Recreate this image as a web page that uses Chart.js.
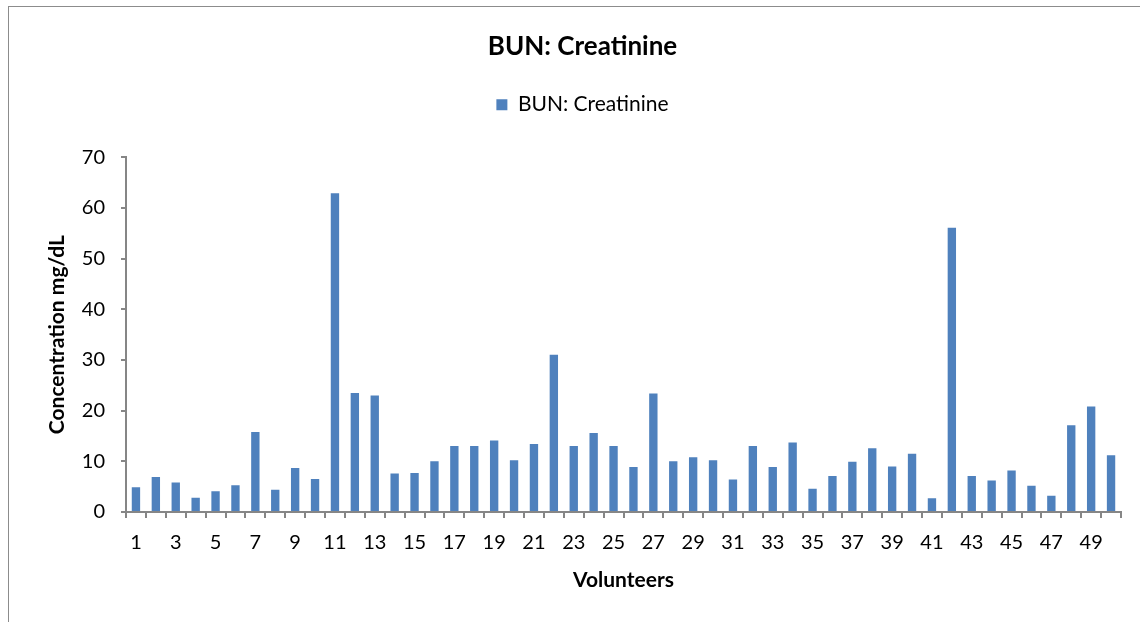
<!DOCTYPE html>
<html>
<head>
<meta charset="utf-8">
<script src="https://cdn.jsdelivr.net/npm/chart.js@4/dist/chart.umd.min.js"></script>
<style>
  html, body { margin: 0; padding: 0; background: #fff; }
  #wrap { position: relative; width: 1140px; height: 622px; overflow: hidden; }
  #frame { position: absolute; left: 8px; top: 6px; width: 1140px; height: 700px; border: 1px solid #8c8c8c; }
  canvas { position: absolute; left: 0; top: 0; }
</style>
</head>
<body>
<div id="wrap">
  <div id="frame"></div>
  <canvas id="bun" width="1140" height="622"></canvas>
</div>
<script>
// volunteers 1..50
var volunteers = [];
for (var i = 1; i <= 50; i++) volunteers.push(String(i));

// BUN : creatinine ratio
var ratio = [
  4.9, 6.9, 5.8, 2.8, 4.1, 5.3, 15.8, 4.4, 8.7, 6.5,
  62.9, 23.5, 23.0, 7.6, 7.7, 10.0, 13.0, 13.0, 14.1, 10.2,
  13.4, 31.0, 13.0, 15.6, 13.0, 8.9, 23.4, 10.0, 10.8, 10.2,
  6.4, 13.0, 8.9, 13.7, 4.6, 7.1, 9.9, 12.6, 9.0, 11.5,
  2.7, 56.1, 7.1, 6.2, 8.2, 5.2, 3.2, 17.1, 20.8, 11.2
];

var fontName = 'Lato, "Liberation Sans", sans-serif';
var axisGray = '#868686';

// leave some room under the legend, like the excel one
var legendGap = {
  id: 'legendGap',
  beforeInit: function (chart) {
    var origFit = chart.legend.fit;
    chart.legend.fit = function () {
      origFit.bind(chart.legend)();
      this.height += 32;
    };
  }
};

var ctx = document.getElementById('bun').getContext('2d');
var bunChart = new Chart(ctx, {
  type: 'bar',
  data: {
    labels: volunteers,
    datasets: [{
      label: 'BUN: Creatinine',
      data: ratio,
      backgroundColor: '#4F81BD',
      borderWidth: 0,
      barPercentage: 0.42,
      categoryPercentage: 1
    }]
  },
  plugins: [legendGap],
  options: {
    responsive: false,
    animation: false,
    layout: { padding: { left: 44, right: 19, top: 0, bottom: 0 } },
    plugins: {
      tooltip: { enabled: false },
      title: {
        display: true,
        text: 'BUN: Creatinine',
        color: '#000',
        font: { family: fontName, size: 26, weight: 'bold' },
        padding: { top: 31, bottom: 22 }
      },
      legend: {
        display: true,
        labels: {
          color: '#000',
          boxWidth: 11,
          boxHeight: 11,
          font: { family: fontName, size: 21 },
          padding: 10
        }
      }
    },
    scales: {
      x: {
        afterFit: function (scale) { scale.height = 110; },
        grid: { display: true, offset: true, drawOnChartArea: false, drawTicks: true, tickLength: 6, color: axisGray, lineWidth: 2 },
        border: { display: true, color: axisGray, width: 2 },
        ticks: {
          autoSkip: false,
          maxRotation: 0,
          color: '#000',
          padding: 13,
          font: { family: fontName, size: 20 },
          callback: function (val, idx) { return idx % 2 === 0 ? this.getLabelForValue(val) : ''; }
        },
        title: {
          display: true,
          text: 'Volunteers',
          color: '#000',
          font: { family: fontName, size: 21, weight: 'bold' },
          padding: { top: 0, bottom: 29 }
        }
      },
      y: {
        min: 0,
        max: 70,
        afterFit: function (scale) { scale.width = 82; },
        grid: { display: true, drawOnChartArea: false, drawTicks: true, tickLength: 5, color: axisGray, lineWidth: 2 },
        border: { display: true, color: axisGray, width: 2 },
        ticks: {
          stepSize: 10,
          color: '#000',
          padding: 16,
          font: { family: fontName, size: 20 }
        },
        title: {
          display: true,
          text: 'Concentration mg/dL',
          color: '#000',
          font: { family: fontName, size: 21, weight: 'bold' },
          padding: { top: 1, bottom: 0 }
        }
      }
    }
  }
});
</script>
</body>
</html>
